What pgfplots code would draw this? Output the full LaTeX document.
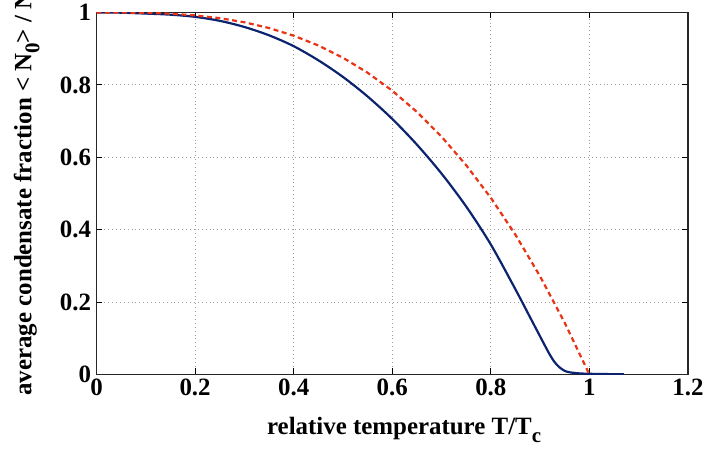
\documentclass[border=0pt]{standalone}
\usepackage{fontspec}
\setmainfont{Liberation Serif}
\usepackage{pgfplots}
\pgfplotsset{compat=1.18}
\definecolor{myblue}{RGB}{12,36,112}
\definecolor{myred}{RGB}{232,52,20}
\newcommand{\sub}[1]{\raisebox{-0.32em}{\fontsize{21}{21}\selectfont #1}}
\begin{document}
\begin{tikzpicture}
\begin{axis}[name=ax, scale only axis, width=591.5bp, height=362bp,
 xmin=0, xmax=1.2, ymin=0, ymax=1,
 xtick={0,0.2,0.4,0.6,0.8,1,1.2}, ytick={0,0.2,0.4,0.6,0.8,1},
 xticklabels={0,0.2,0.4,0.6,0.8,1,1.2}, yticklabels={0,0.2,0.4,0.6,0.8,1},
 tick label style={font=\fontsize{25}{28}\selectfont\bfseries},
 label style={font=\fontsize{25}{28}\selectfont\bfseries},
 tick align=inside, xtick pos=both, ytick pos=both,
 major tick length=6bp,
 tick style={black, line width=1bp},
 axis line style={line width=1.3bp, black!85},
 grid=major, grid style={gray!75, line width=0.9bp, dash pattern=on 0.9bp off 3bp},
 xlabel={relative temperature T/T\sub{c}},
 ylabel={average condensate fraction < N\sub{0}> / N},
 xlabel style={at={(axis description cs:0.52,-0.167)}, anchor=base},
 ylabel style={at={(axis description cs:-0.110,0.5)}, anchor=base},
 xticklabel style={yshift=-1bp},
 yticklabel style={xshift=-2bp},
]
\addplot[myblue, line width=2.2bp, smooth, tension=0.5] coordinates {
(0,1.000) (0.05,0.9995) (0.1,0.997) (0.15,0.994) (0.2,0.988) (0.25,0.977)
(0.3,0.960) (0.35,0.937) (0.4,0.907) (0.45,0.868) (0.5,0.822) (0.55,0.768)
(0.6,0.706) (0.65,0.635) (0.7,0.555) (0.75,0.464) (0.8,0.359) (0.85,0.235)
(0.88,0.157) (0.9,0.105) (0.91,0.079) (0.92,0.054) (0.93,0.033) (0.94,0.019)
(0.95,0.010) (0.96,0.006) (0.98,0.003) (1.0,0.002) (1.03,0.0012) (1.07,0.0008)
};
\addplot[myred, line width=2.2bp, dash pattern=on 5bp off 3.5bp] coordinates {
(0,1) (0.05,0.9999) (0.1,0.999) (0.15,0.9966) (0.2,0.992) (0.25,0.9844)
(0.3,0.973) (0.35,0.9571) (0.4,0.936) (0.45,0.9089) (0.5,0.875) (0.55,0.8336)
(0.6,0.784) (0.65,0.7254) (0.7,0.657) (0.75,0.5781) (0.8,0.488) (0.85,0.3859)
(0.9,0.271) (0.95,0.1426) (1.0,0)
};
\end{axis}
\pgfresetboundingbox
\path[use as bounding box] ([xshift=-96.5bp,yshift=-81.5bp]ax.south west) rectangle ([xshift=16bp,yshift=12.5bp]ax.north east);
\end{tikzpicture}
\end{document}
